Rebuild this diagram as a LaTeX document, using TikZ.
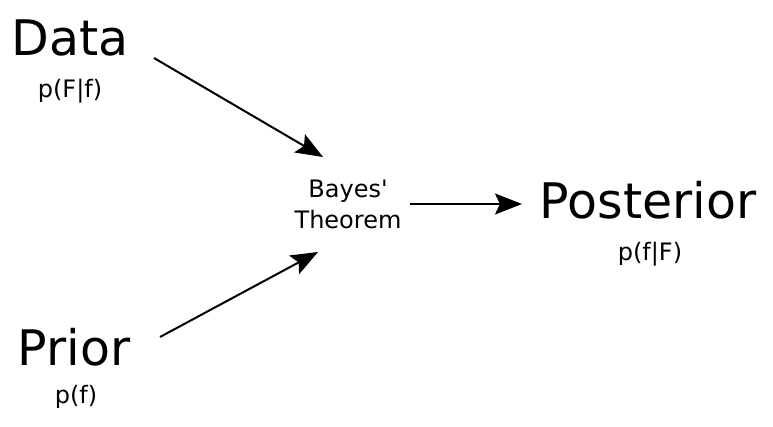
\documentclass[tikz,border=0pt]{standalone}
\usepackage{fontspec}
\setmainfont{DejaVu Sans}
\usetikzlibrary{arrows.meta}
\begin{document}
\begin{tikzpicture}[x=1pt,y=-1pt,
  big/.style={inner sep=0pt,anchor=base,font=\fontsize{49}{58}\selectfont},
  small/.style={inner sep=0pt,anchor=base,font=\fontsize{24}{29}\selectfont},
  arr/.style={line width=2pt,-{Stealth[length=27pt,width=21pt,inset=5pt]}}]
\useasboundingbox (0,0) rectangle (773,426);
\node[big] (data) at (70,55) {Data};
\node[small] (pdata) at (70,97) {p(F|f)};
\node[big] (prior) at (74,365) {Prior};
\node[small] (pprior) at (76,403) {p(f)};
\node[small] (bayes) at (348,197) {Bayes\textquotesingle};
\node[small] (theorem) at (348,228) {Theorem};
\node[big] (post) at (648,218) {Posterior};
\node[small] (ppost) at (650,260) {p(f|F)};
\coordinate (d1) at (154,58);
\coordinate (d2) at (323,157);
\coordinate (p1) at (160,337);
\coordinate (p2) at (318,252);
\coordinate (b1) at (410,204);
\coordinate (b2) at (522,204);
\draw[arr] (d1) -- (d2);
\draw[arr] (p1) -- (p2);
\draw[arr] (b1) -- (b2);
\end{tikzpicture}
\end{document}
